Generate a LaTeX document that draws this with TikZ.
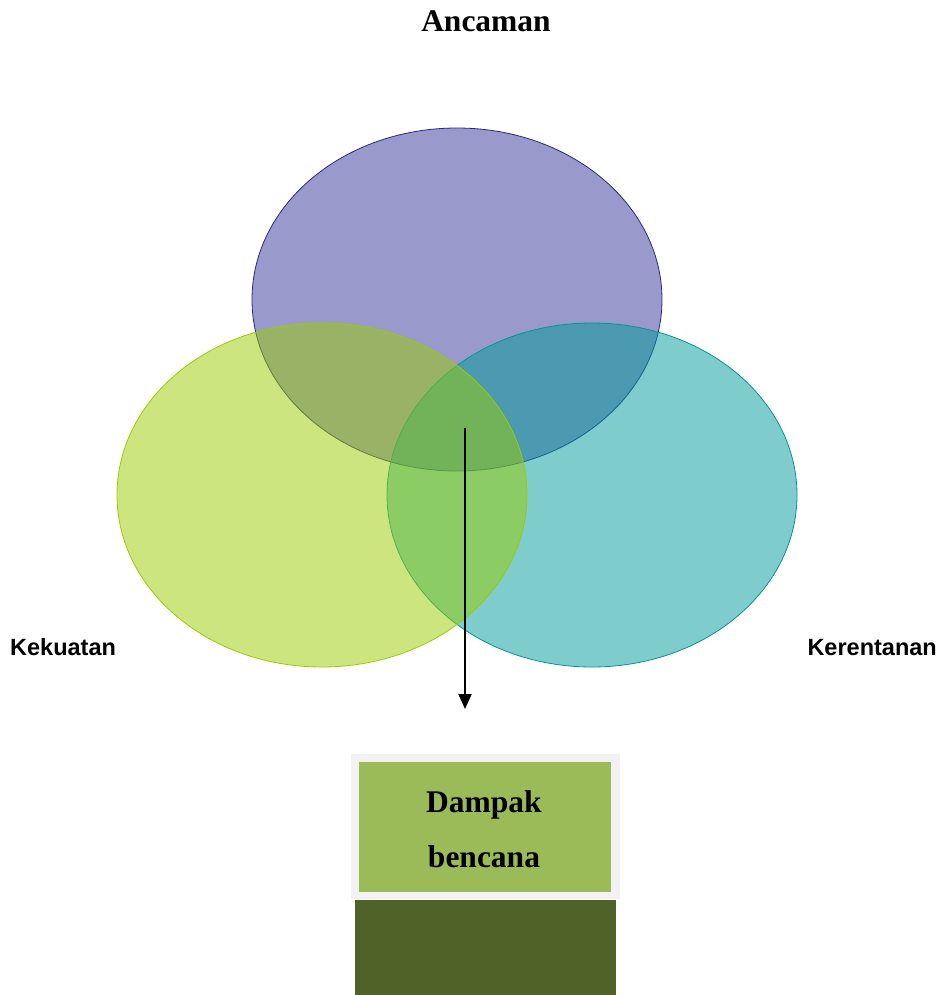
\documentclass[tikz,border=0pt]{standalone}
\usepackage{fontspec}
\setmainfont{Liberation Serif}
\setsansfont{Liberation Sans}
\usetikzlibrary{arrows.meta}
\definecolor{cpurple}{RGB}{51,51,153}
\definecolor{cpurpleb}{RGB}{40,40,140}
\definecolor{cgreen}{RGB}{153,204,0}
\definecolor{cgreenb}{RGB}{153,204,0}
\definecolor{cteal}{RGB}{0,153,153}
\definecolor{ctealb}{RGB}{0,150,150}
\definecolor{boxgreen}{RGB}{155,187,89}
\definecolor{boxdark}{RGB}{79,98,40}
\definecolor{boxgray}{RGB}{242,242,242}
\begin{document}
\begin{tikzpicture}[x=1pt,y=-1pt,
  venn/.style={fill opacity=0.5, line width=0.8pt},
  lbl/.style={font=\sffamily\bfseries\fontsize{23.5}{26}\selectfont, inner sep=0pt},
  ttl/.style={font=\bfseries\fontsize{31.5}{36}\selectfont, inner sep=0pt}]
\useasboundingbox (0,0) rectangle (944,995);
% ellipses
\draw[venn, fill=cpurple, draw=cpurpleb] (457,299.5) ellipse [x radius=205, y radius=171.5];
\draw[venn, fill=cteal, draw=ctealb] (592,495) ellipse [x radius=205, y radius=172];
\draw[venn, fill=cgreen, draw=cgreenb] (322,495) ellipse [x radius=205, y radius=172];
% labels
\node[ttl] (anc) at (486,21) {Ancaman};
\node[lbl, anchor=base west] (kek) at (10,655) {Kekuatan};
\node[lbl, anchor=base east] (ker) at (937,655) {Kerentanan};
% box
\fill[boxgray] (351,754) rectangle (620,899);
\fill[boxdark] (355,900) rectangle (616,995);
\node[fill=boxgreen, minimum width=252pt, minimum height=130pt, inner sep=0pt, anchor=north west] (box) at (359,762) {};
\node[ttl, align=center] (txt) at (484,829) {Dampak\\[19pt]bencana};
% arrow
\coordinate (start) at (465,428);
\coordinate (end) at (465,709);
\draw[line width=2pt, -{Triangle[length=15pt,width=13pt]}] (start) -- (end);
\end{tikzpicture}
\end{document}
